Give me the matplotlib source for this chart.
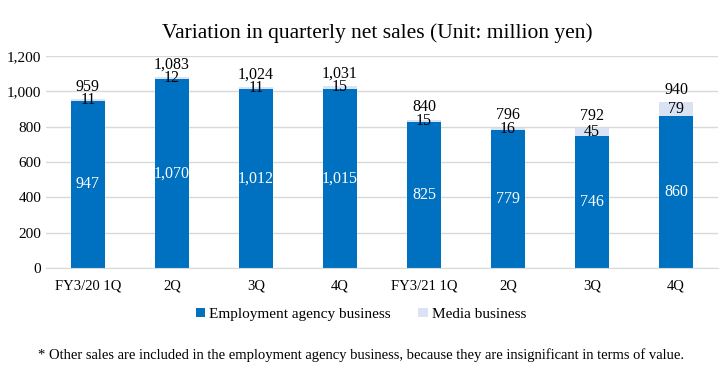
import matplotlib
matplotlib.use("Agg")
import matplotlib.pyplot as plt
import numpy as np

# data (million yen)
quarters = ['FY3/20 1Q', '2Q', '3Q', '4Q', 'FY3/21 1Q', '2Q', '3Q', '4Q']
employment = [947, 1070, 1012, 1015, 825, 779, 746, 860]
media = [11, 12, 11, 15, 15, 16, 45, 79]
totals = [959, 1083, 1024, 1031, 840, 796, 792, 940]

plt.rcParams['font.family'] = ['Liberation Serif', 'DejaVu Serif']

blue = '#0070C0'
light = '#DAE3F3'

fig = plt.figure(figsize=(7.22, 3.8), dpi=100)
ax = fig.add_axes([0.0637, 0.2947, 0.9308, 0.5579])

x = np.arange(len(quarters))
emp = np.array(employment)
med = np.array(media)

b1 = ax.bar(x, emp, width=0.4, color=blue, label='Employment agency business', zorder=2)
b2 = ax.bar(x, med, width=0.4, bottom=emp, color=light, label='Media business', zorder=2)

# labels inside the employment segment
for xi, v in zip(x, emp):
    ax.text(xi, v / 2, f'{v:,}', ha='center', va='center', color='white', fontsize=11.5)
# media labels centred on their segment
for xi, e, m in zip(x, emp, med):
    ax.text(xi, e + m / 2, f'{m:,}', ha='center', va='center', color='black', fontsize=11.5)
# totals above the bars
for xi, e, m, t in zip(x, emp, med, totals):
    ax.annotate(f'{t:,}', (xi, e + m), xytext=(0, 3), textcoords='offset points',
                ha='center', va='bottom', fontsize=11.5)

ax.set_xlim(-0.5, len(quarters) - 0.5)
ax.set_ylim(0, 1200)
ax.set_yticks(range(0, 1201, 200))
ax.set_yticklabels([f'{v:,}' for v in range(0, 1201, 200)], fontsize=11)
ax.set_xticks(x)
ax.set_xticklabels(quarters, fontsize=10.5)
ax.tick_params(length=0)
ax.tick_params(axis='x', pad=8)
ax.grid(axis='y', color='#D9D9D9', linewidth=1, zorder=0)
for s in ['top', 'right', 'left']:
    ax.spines[s].set_visible(False)
ax.spines['bottom'].set_color('#D9D9D9')

fig.text(0.522, 0.913, 'Variation in quarterly net sales (Unit: million yen)',
         ha='center', va='center', fontsize=15.5)

fig.legend(handles=[b1, b2], loc='center', bbox_to_anchor=(0.5, 0.173), ncol=2,
           frameon=False, fontsize=11, handlelength=0.6, handleheight=0.6,
           handletextpad=0.3, columnspacing=1.8)

fig.text(0.5, 0.066, '* Other sales are included in the employment agency business, '
         'because they are insignificant in terms of value.',
         ha='center', va='center', fontsize=10.5)

fig.savefig('out.png', dpi=100)
